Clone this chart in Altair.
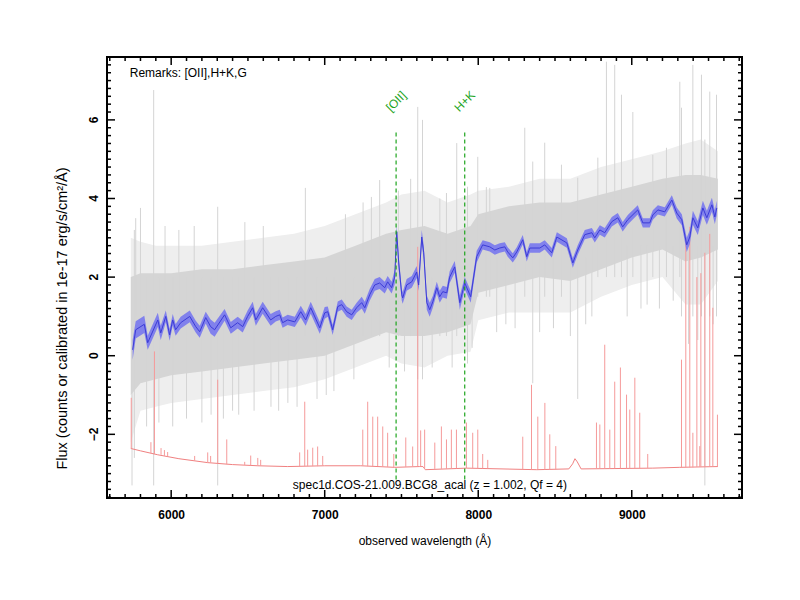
import altair as alt
import pandas as pd

# ---------------- data ----------------
# smoothed spectrum (blue)
blue_wave = [5749, 5769, 5825, 5847, 5913, 5932, 5965, 5990, 6010, 6029, 6062, 6121, 6160, 6186,
             6225, 6257, 6283, 6348, 6388, 6433, 6466, 6498, 6531, 6551, 6596, 6648, 6681, 6707,
             6726, 6759, 6805, 6844, 6876, 6909, 6968, 7000, 7020, 7052, 7085, 7111, 7143, 7176,
             7208, 7241, 7261, 7293, 7326, 7358, 7391, 7410, 7436, 7456, 7469, 7482, 7502, 7508,
             7534, 7567, 7599, 7612, 7632, 7645, 7665, 7684, 7704, 7730, 7749, 7769, 7795, 7814,
             7847, 7880, 7912, 7951, 7990, 8029, 8075, 8108, 8140, 8173, 8192, 8225, 8251, 8290,
             8316, 8336, 8401, 8433, 8479, 8512, 8577, 8616, 8648, 8694, 8740, 8759, 8792, 8824,
             8870, 8909, 8941, 8974, 9039, 9072, 9117, 9137, 9170, 9215, 9261, 9293, 9326, 9358,
             9378, 9398, 9430, 9463, 9489, 9522, 9541, 9554]
blue_flux = [0.15, 0.66, 0.80, 0.33, 0.91, 0.58, 1.00, 0.53, 0.91, 0.66, 0.84, 1.00, 0.74, 0.61,
             0.97, 0.74, 0.66, 1.04, 0.71, 0.84, 0.74, 1.00, 1.22, 0.91, 1.22, 0.91, 1.00, 1.04,
             0.84, 0.91, 0.86, 1.12, 0.91, 1.22, 0.71, 1.09, 1.12, 0.66, 1.25, 1.30, 1.12, 1.04,
             1.22, 1.35, 1.22, 1.55, 1.80, 1.85, 1.73, 1.88, 1.73, 2.00, 3.15, 2.36, 1.55, 1.47,
             1.80, 1.88, 2.13, 1.80, 3.02, 2.62, 1.35, 1.17, 1.37, 1.73, 1.50, 1.63, 1.60, 2.00,
             2.26, 1.35, 1.85, 1.50, 2.52, 2.82, 2.77, 2.69, 2.74, 2.77, 2.64, 2.49, 2.64, 2.95,
             2.52, 2.74, 2.74, 2.82, 2.62, 3.02, 2.87, 2.36, 2.69, 3.08, 3.13, 3.00, 3.20, 3.13,
             3.41, 3.51, 3.28, 3.46, 3.71, 3.38, 3.38, 3.58, 3.71, 3.66, 3.96, 3.63, 3.46, 2.82,
             3.02, 3.51, 3.25, 3.76, 3.51, 3.84, 3.53, 3.76]
blue_err = [0.25, 0.22, 0.22, 0.18, 0.18, 0.18, 0.15, 0.15, 0.15, 0.15, 0.15, 0.15, 0.15, 0.15,
            0.15, 0.18, 0.18, 0.15, 0.15, 0.15, 0.15, 0.15, 0.15, 0.15, 0.15, 0.15, 0.13, 0.13,
            0.13, 0.13, 0.13, 0.15, 0.15, 0.15, 0.15, 0.15, 0.13, 0.13, 0.13, 0.13, 0.13, 0.13,
            0.13, 0.15, 0.15, 0.15, 0.15, 0.15, 0.15, 0.15, 0.15, 0.18, 0.18, 0.18, 0.15, 0.15,
            0.15, 0.15, 0.15, 0.15, 0.18, 0.18, 0.18, 0.18, 0.15, 0.15, 0.15, 0.15, 0.15, 0.15,
            0.15, 0.18, 0.15, 0.15, 0.15, 0.12, 0.12, 0.12, 0.12, 0.12, 0.12, 0.12, 0.12, 0.12,
            0.12, 0.12, 0.12, 0.12, 0.12, 0.12, 0.12, 0.12, 0.12, 0.12, 0.12, 0.12, 0.12, 0.12,
            0.12, 0.12, 0.12, 0.12, 0.12, 0.12, 0.12, 0.12, 0.12, 0.12, 0.12, 0.14, 0.14, 0.18,
            0.18, 0.18, 0.18, 0.18, 0.18, 0.18, 0.18, 0.18]

# raw spectrum (grey): dense core and lighter envelope
gray_wave = [5737, 5800, 5900, 6000, 6200, 6400, 6600, 6800, 7000, 7200, 7400, 7500, 7650,
             7800, 7950, 8000, 8200, 8400, 8600, 8800, 9000, 9200, 9350, 9450, 9561]
gray_core_lo = [-1.0, -0.7, -0.6, -0.5, -0.4, -0.3, -0.2, -0.1, 0.0, 0.3, 0.6, 0.5, 0.5,
                0.6, 0.8, 1.6, 1.8, 2.0, 1.9, 2.2, 2.5, 2.7, 2.4, 2.5, 2.7]
gray_core_hi = [2.0, 2.1, 2.1, 2.1, 2.2, 2.2, 2.3, 2.4, 2.5, 2.8, 3.1, 3.2, 3.3,
                3.1, 3.3, 3.6, 3.8, 3.9, 3.9, 4.1, 4.3, 4.5, 4.6, 4.6, 4.5]
gray_outer_lo = [-2.2, -1.4, -1.3, -1.2, -1.1, -1.0, -0.9, -0.8, -0.6, -0.3, 0.0, -0.2, -0.3,
                 0.0, 0.1, 0.9, 1.1, 1.1, 1.1, 1.5, 1.8, 2.0, 1.3, 1.3, 1.9]
gray_outer_hi = [3.0, 2.9, 2.8, 2.8, 2.8, 2.9, 3.0, 3.1, 3.3, 3.6, 3.9, 4.1, 4.2,
                 3.9, 4.1, 4.2, 4.3, 4.5, 4.5, 4.8, 5.0, 5.2, 5.4, 5.5, 5.2]

# isolated grey spikes (wavelength, bottom, top)
spike_wave = [5745, 5760, 5769, 5800, 5840, 5886, 5920, 5960, 6010, 6050, 6100, 6150, 6200,
              6260, 6303, 6340, 6400, 6440, 6480, 6540, 6600, 6650, 6700, 6760, 6820, 6874,
              6950, 7010, 7060, 7135, 7190, 7250, 7304, 7358, 7420, 7480, 7520, 7560, 7606,
              7637, 7700, 7750, 7793, 7830, 7860, 7930, 7960, 7997, 8053, 8075, 8120, 8180,
              8240, 8303, 8355, 8400, 8433, 8490, 8542, 8600, 8648, 8700, 8740, 8779, 8835,
              8889, 8933, 8970, 9007, 9060, 9100, 9137, 9180, 9226, 9270, 9313, 9324, 9370,
              9398, 9430, 9454, 9476, 9508, 9530, 9552]
spike_lo = [-3.3, -2.6, 1.0, 1.0, -1.8, -3.3, -1.7, 1.0, -1.8, 1.0, -1.6, 1.0, -1.7,
            -1.5, -3.3, -1.6, -1.4, -1.5, 1.0, -1.4, 1.0, -1.3, -1.4, -1.2, -1.3, 0.5,
            -1.1, -1.0, -0.9, 0.5, -0.6, 0.5, 0.5, 0.5, -0.3, 0.5, -0.4, 0.5, -0.6,
            -0.6, -0.3, 0.5, 0.5, -0.3, 0.5, -0.2, 0.2, 1.5, 1.5, 1.5, 0.6, 0.8,
            0.7, 1.5, -0.7, 0.6, 1.5, 0.7, 1.5, 0.5, -1.1, 0.8, 1.0, 2.0, 2.0,
            2.0, 2.0, 1.0, 2.0, 1.2, 1.3, 2.0, 1.2, 2.0, 1.4, 2.0, 1.0, 0.3,
            1.0, 0.4, 1.0, -3.3, 1.0, 0.8, 1.0]
spike_hi = [2.0, 3.2, 3.5, 3.76, 2.0, 6.76, 2.0, 3.3, 2.0, 3.2, 2.0, 3.3, 2.0,
            2.0, 3.79, 2.0, 2.0, 2.0, 3.4, 2.0, 3.3, 2.0, 2.0, 2.0, 2.0, 4.27,
            2.0, 2.0, 2.0, 3.6, 2.0, 3.9, 4.04, 4.47, 2.0, 4.2, 2.0, 4.5, 6.33,
            6.0, 2.0, 4.0, 4.14, 2.0, 5.41, 4.3, 2.0, 5.06, 4.29, 4.27, 2.5, 2.5,
            2.5, 5.80, 4.94, 2.5, 5.42, 2.5, 4.86, 2.5, 4.53, 2.5, 2.8, 5.04, 7.48,
            7.40, 6.64, 2.8, 6.20, 2.8, 2.8, 5.11, 2.8, 5.29, 2.8, 6.97, 6.31, 2.8,
            7.40, 2.8, 7.15, 5.5, 6.72, 2.8, 6.64]

# sky spectrum (red): continuum and emission lines
sky_wave = [5737, 5800, 5912, 6050, 6238, 6400, 6564, 6759, 7000, 7235, 7456, 7619, 7640,
            7655, 7925, 8381, 8590, 8615, 8630, 8645, 8670, 9137, 9313, 9561]
sky_flux = [-2.36, -2.42, -2.52, -2.62, -2.72, -2.77, -2.80, -2.82, -2.80, -2.80, -2.84, -2.82,
            -2.82, -2.90, -2.86, -2.90, -2.88, -2.75, -2.62, -2.70, -2.88, -2.86, -2.84, -2.82]
skyline_wave = [5740, 5868, 5891, 5934, 5956, 5977, 6153, 6238, 6257, 6303, 6362, 6479, 6518,
                6564, 6583, 6837, 6870, 6889, 6922, 6954, 6987, 7248, 7280, 7313, 7345, 7378,
                7410, 7450, 7528, 7573, 7606, 7625, 7651, 7717, 7760, 7793, 7825, 7858, 7923,
                7964, 7997, 8029, 8062, 8290, 8347, 8388, 8434, 8466, 8505, 8770, 8792, 8824,
                8857, 8889, 8926, 8966, 8987, 9020, 9052, 9104, 9324, 9352, 9378, 9398, 9424,
                9443, 9450, 9476, 9508, 9528, 9558]
skyline_base = [-2.36, -2.48, -2.50, -2.52, -2.55, -2.56, -2.67, -2.72, -2.72, -2.74, -2.76,
                -2.78, -2.79, -2.80, -2.80, -2.81, -2.81, -2.81, -2.81, -2.81, -2.80, -2.80,
                -2.81, -2.81, -2.81, -2.82, -2.83, -2.84, -2.83, -2.82, -2.82, -2.82, -2.88,
                -2.88, -2.88, -2.88, -2.87, -2.87, -2.86, -2.86, -2.87, -2.87, -2.87, -2.89,
                -2.90, -2.90, -2.90, -2.90, -2.90, -2.88, -2.88, -2.88, -2.88, -2.87, -2.87,
                -2.87, -2.87, -2.87, -2.87, -2.86, -2.84, -2.84, -2.84, -2.84, -2.83, -2.83,
                -2.83, -2.83, -2.82, -2.82, -2.82]
skyline_peak = [-1.07, -2.20, 0.11, -2.35, -2.40, -2.45, -2.55, -2.46, -2.55, -0.61, -2.13,
                -2.70, -2.54, -2.60, -2.65, -2.46, -1.17, -2.39, -2.34, -2.31, -2.55, -1.88,
                -1.17, -1.55, -1.55, -1.80, -1.96, -2.50, -2.08, -2.31, 2.77, -1.90, -1.88,
                -2.21, -1.80, -2.13, -1.88, -1.88, -1.70, -1.96, -1.88, -2.50, -2.65, -2.06,
                -0.74, -1.55, -1.20, -2.00, -2.30, -1.70, -1.75, 0.28, -1.88, -0.66, -0.30,
                -0.99, -1.37, -0.56, -1.45, -2.50, -0.10, 3.00, 3.28, -1.96, 2.00, -2.30,
                2.10, 2.62, 3.10, 1.22, -1.50]

# identified features (positions)
line_names = ["[OII]", "H+K"]
line_wave = [7465, 7912]
line_y0 = [-3.15, -3.15]
line_y1 = [5.73, 5.73]
line_label_y = [6.47, 6.47]

remarks_text = "Remarks: [OII],H+K,G"
remarks_pos = (5730, 7.2)
spec_text = "spec1d.COS-21.009.BCG8_acal (z = 1.002, Qf = 4)"
spec_pos = (7685, -3.28)

x_major = [6000, 7000, 8000, 9000]
x_minor = [v for v in range(5600, 9800, 100) if v % 1000 != 0]
y_major = [-2, 0, 2, 4, 6]
y_minor = [round(-3.6 + 0.2 * i, 1) for i in range(57)]
y_minor = [v for v in y_minor if abs(v - round(v / 2) * 2) > 1e-6]

# ---------------- chart ----------------
X_DOMAIN = [5582, 9718]
Y_DOMAIN = [-3.62, 7.6]
W, H = 635, 441
FONT = "Liberation Sans"
GREEN = "#1fa51f"

xs = alt.Scale(domain=X_DOMAIN, nice=False, zero=False)
ys = alt.Scale(domain=Y_DOMAIN, nice=False, zero=False)

x_axis = alt.Axis(values=x_major, format="d", ticks=False, tickSize=0, domain=False, grid=False,
                  labelFont=FONT, labelFontSize=12, labelFontWeight="bold", labelColor="black",
                  labelPadding=16, labelBaseline="middle",
                  title="observed wavelength (Å)", titleFont=FONT, titleFontSize=12,
                  titleFontWeight="normal", titleColor="black", titleY=42, titleBaseline="middle")
y_axis = alt.Axis(values=y_major, ticks=False, tickSize=0, domain=False, grid=False,
                  labels=False,
                  title="Flux (counts or calibrated in 1e-17 erg/s/cm²/Å)", titleFont=FONT,
                  titleFontSize=14.5, titleFontWeight="normal", titleColor="black",
                  titleAngle=270, titleX=-45, titleY=261, titleAlign="center",
                  titleBaseline="middle")


def X(field):
    return alt.X(field, scale=xs, axis=x_axis)


def Y(field):
    return alt.Y(field, scale=ys, axis=y_axis)


gray_df = pd.DataFrame({"w": gray_wave, "clo": gray_core_lo, "chi": gray_core_hi,
                        "olo": gray_outer_lo, "ohi": gray_outer_hi})
spike_df = pd.DataFrame({"w": spike_wave, "lo": spike_lo, "hi": spike_hi})
blue_df = pd.DataFrame({"w": blue_wave, "f": blue_flux, "e": blue_err})
blue_df["lo"] = blue_df["f"] - blue_df["e"]
blue_df["hi"] = blue_df["f"] + blue_df["e"]
sky_df = pd.DataFrame({"w": sky_wave, "f": sky_flux})
skyline_df = pd.DataFrame({"w": skyline_wave, "b": skyline_base, "p": skyline_peak})
feat_df = pd.DataFrame({"name": line_names, "w": line_wave, "y0": line_y0, "y1": line_y1,
                        "ly": line_label_y})
remarks_df = pd.DataFrame({"w": [remarks_pos[0]], "f": [remarks_pos[1]], "t": [remarks_text]})
spec_df = pd.DataFrame({"w": [spec_pos[0]], "f": [spec_pos[1]], "t": [spec_text]})
ylab_df = pd.DataFrame({"f": y_major})

outer = alt.Chart(gray_df).mark_area(color="#eeeeee").encode(
    x=X("w:Q"), y=Y("olo:Q"), y2="ohi:Q")
core = alt.Chart(gray_df).mark_area(color="#d5d5d5").encode(
    x=X("w:Q"), y=Y("clo:Q"), y2="chi:Q")
spikes = alt.Chart(spike_df).mark_rule(color="#d4d4d4", strokeWidth=1).encode(
    x=X("w:Q"), y=Y("lo:Q"), y2="hi:Q")
sky = alt.Chart(sky_df).mark_line(color="#f08080", strokeWidth=1).encode(
    x=X("w:Q"), y=Y("f:Q"))
skylines = alt.Chart(skyline_df).mark_rule(color="#f59a9a", strokeWidth=1).encode(
    x=X("w:Q"), y=Y("b:Q"), y2="p:Q")
band = alt.Chart(blue_df).mark_area(color="#7878ee", opacity=0.9).encode(
    x=X("w:Q"), y=Y("lo:Q"), y2="hi:Q")
bline = alt.Chart(blue_df).mark_line(color="#3c3cd6", strokeWidth=1).encode(
    x=X("w:Q"), y=Y("f:Q"))
feat_lines = alt.Chart(feat_df).mark_rule(strokeWidth=1.2, strokeDash=[4, 3]).encode(
    x=X("w:Q"), y=Y("y0:Q"), y2="y1:Q", color=alt.value(GREEN))
feat_text = alt.Chart(feat_df).mark_text(font=FONT, fontSize=12, angle=315,
                                         align="center", baseline="middle").encode(
    x=X("w:Q"), y=Y("ly:Q"), text="name:N", color=alt.value(GREEN))
remarks = alt.Chart(remarks_df).mark_text(color="black", font=FONT, fontSize=12, align="left",
                                          baseline="middle").encode(
    x=X("w:Q"), y=Y("f:Q"), text="t:N")
spec = alt.Chart(spec_df).mark_text(color="black", font=FONT, fontSize=12, align="center",
                                    baseline="middle").encode(
    x=X("w:Q"), y=Y("f:Q"), text="t:N")
# rotated y tick labels (reading bottom to top, as in the reference)
ylabels = alt.Chart(ylab_df).mark_text(color="black", font=FONT, fontSize=12, fontWeight="bold",
                                       angle=270, align="center", baseline="middle").encode(
    y=Y("f:Q"), x=alt.value(-13), text=alt.Text("f:Q", format="d"))


# inward ticks on all four sides
def xticks(vals, length):
    d = pd.DataFrame({"w": vals})
    bot = alt.Chart(d).mark_rule(color="black", strokeWidth=1.5).encode(
        x=X("w:Q"), y=alt.value(H), y2=alt.value(H - length))
    top = alt.Chart(d).mark_rule(color="black", strokeWidth=1.5).encode(
        x=X("w:Q"), y=alt.value(0), y2=alt.value(length))
    return [bot, top]


def yticks(vals, length):
    d = pd.DataFrame({"f": vals})
    left = alt.Chart(d).mark_rule(color="black", strokeWidth=1.5).encode(
        y=Y("f:Q"), x=alt.value(0), x2=alt.value(length))
    right = alt.Chart(d).mark_rule(color="black", strokeWidth=1.5).encode(
        y=Y("f:Q"), x=alt.value(W), x2=alt.value(W - length))
    return [left, right]


tick_layers = xticks(x_major, 8) + xticks(x_minor, 4) + yticks(y_major, 8) + yticks(y_minor, 4)

chart = alt.layer(outer, core, spikes, sky, skylines, band, bline, feat_text,
                  remarks, spec, ylabels, *tick_layers, feat_lines).properties(
    width=W, height=H,
    autosize=alt.AutoSizeParams(type="none"),
    padding={"left": 99, "top": 49, "right": 50, "bottom": 94},
    background="white",
).configure_view(stroke="black", strokeWidth=2)

chart.save("out.html", embed_options={"renderer": "svg", "actions": False})
